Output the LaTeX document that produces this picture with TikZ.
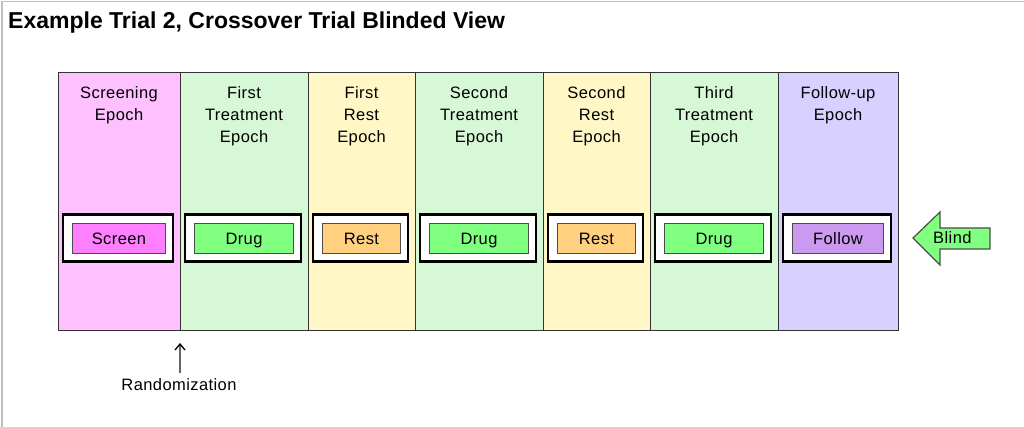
\documentclass[tikz,border=0pt]{standalone}
\usepackage{fontspec}
\setmainfont{Liberation Sans}
\newfontfamily\spaced[LetterSpace=2.5]{Liberation Sans}
\usetikzlibrary{arrows.meta}
\definecolor{cpink}{HTML}{FFC0FF}
\definecolor{cgreen}{HTML}{D6F8D6}
\definecolor{cyellow}{HTML}{FFF8C6}
\definecolor{clav}{HTML}{D8D0FF}
\definecolor{bpink}{HTML}{FF80FF}
\definecolor{bgreen}{HTML}{80FF80}
\definecolor{bor}{HTML}{FFD080}
\definecolor{bpur}{HTML}{CC99F0}
\begin{document}
\begin{tikzpicture}[x=1pt,y=-1pt,
  col/.style={draw=black!80, line width=0.9pt, inner sep=0pt, outer sep=0pt, minimum height=258pt},
  hdr/.style={anchor=north, align=center, inner sep=0pt, font=\spaced\fontsize{16.5}{22}\selectfont},
  outerbox/.style={draw=black, line width=2.8pt, fill=white, inner sep=0pt, minimum height=47pt},
  innerbox/.style={draw=black!70, line width=1.3pt, inner sep=0pt, minimum height=30pt, text depth=0pt, text height=12pt, font=\spaced\fontsize{16.5}{18}\selectfont},
  lbl/.style={inner sep=0pt, font=\spaced\fontsize{16.5}{18}\selectfont}
]
\useasboundingbox (0,0) rectangle (1024,427);
\draw[black!25, line width=1.5pt] (2,427) -- (2,1.5) -- (1024,1.5);
\node[anchor=base west, inner sep=0pt, font=\bfseries\fontsize{23}{25}\selectfont] (title) at (8,29) {Example Trial 2, Crossover Trial Blinded View};
\foreach \n/\cx/\w/\cf/\bf/\head/\txt in {
  1/119/122/cpink/bpink/{Screening\\Epoch}/Screen,
  2/244/128/cgreen/bgreen/{First\\Treatment\\Epoch}/Drug,
  3/361.5/107/cyellow/bor/{First\\Rest\\Epoch}/Rest,
  4/479/128/cgreen/bgreen/{Second\\Treatment\\Epoch}/Drug,
  5/596.5/107/cyellow/bor/{Second\\Rest\\Epoch}/Rest,
  6/714/128/cgreen/bgreen/{Third\\Treatment\\Epoch}/Drug,
  7/838/120/clav/bpur/{Follow-up\\Epoch}/Follow}{
  \node[col, fill=\cf, minimum width=\w pt] (c\n) at (\cx,201) {};
  \node[hdr] (h\n) at (\cx,86.5) {\head};
  \pgfmathsetmacro{\ow}{\w-12}
  \pgfmathsetmacro{\iw}{\w-29}
  \node[outerbox, minimum width=\ow pt] (o\n) at (\cx-1,238) {};
  \node[innerbox, fill=\bf, minimum width=\iw pt] (b\n) at (\cx,238.5) {\txt};
}
\draw[black!70, line width=1.2pt, fill=bgreen] (913,238) -- (940,212) -- (940,228) -- (990,228) -- (990,249) -- (940,249) -- (940,265) -- cycle;
\node[lbl, anchor=base west] (blind) at (933,244) {Blind};
\node[lbl] (rand) at (179,385) {Randomization};
\coordinate (rtip) at (180,343);
\draw[black!60, line width=1.3pt, -{Straight Barb[length=6pt,width=10pt,line width=1.3pt,color=black]}] (180,373) -- (rtip);
\end{tikzpicture}
\end{document}
